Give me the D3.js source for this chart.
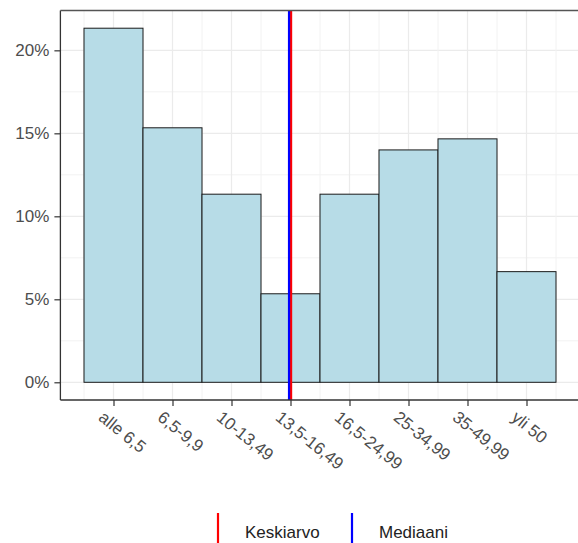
<!DOCTYPE html>
<html>
<head>
<meta charset="utf-8">
<script src="https://cdn.jsdelivr.net/npm/d3@7"></script>
<style>
  html, body { margin: 0; padding: 0; background: #fff; }
  svg { display: block; font-family: "Liberation Sans", Arial, sans-serif; }
</style>
</head>
<body>
<svg id="chart" width="578" height="543"></svg>
<script>
// ---- data ----
const categories = ["alle 6,5", "6,5-9,9", "10-13,49", "13,5-16,49", "16,5-24,99", "25-34,99", "35-49,99", "yli 50"];
const shares = [32/150, 23/150, 17/150, 8/150, 17/150, 21/150, 22/150, 10/150];
const yTicks = [0, 0.05, 0.10, 0.15, 0.20];
const yTickLabels = ["0%", "5%", "10%", "15%", "20%"];
const keskiarvo = 4.01;   // position on category axis (1..8)
const mediaani = 3.975;
const legendItems = [{label: "Keskiarvo", color: "#ff0000"}, {label: "Mediaani", color: "#0000ff"}];

// ---- layout ----
const svg = d3.select("#chart");
const panel = {left: 60.4, right: 579.6, top: 10.5, bottom: 400};
const n = categories.length;
const x = d3.scaleLinear().domain([0.1, n + 0.9]).range([panel.left, panel.right]);
const yMax = d3.max(shares);
const pad = yMax * 0.05;
const y = d3.scaleLinear().domain([-pad, yMax + pad]).range([panel.bottom, panel.top]);

const grid = svg.append("g");
const yMinor = [0.025, 0.075, 0.125, 0.175, 0.225].filter(v => v < yMax + pad);
grid.selectAll("line.ymin").data(yMinor).join("line")
  .attr("x1", panel.left).attr("x2", panel.right)
  .attr("y1", d => y(d)).attr("y2", d => y(d))
  .attr("stroke", "#f2f2f2").attr("stroke-width", 1);
grid.selectAll("line.ymaj").data(yTicks).join("line")
  .attr("x1", panel.left).attr("x2", panel.right)
  .attr("y1", d => y(d)).attr("y2", d => y(d))
  .attr("stroke", "#ebebeb").attr("stroke-width", 1.2);
const xMinor = d3.range(0.5, n + 1, 1);
grid.selectAll("line.xmin").data(xMinor).join("line")
  .attr("y1", panel.top).attr("y2", panel.bottom)
  .attr("x1", d => x(d)).attr("x2", d => x(d))
  .attr("stroke", "#f2f2f2").attr("stroke-width", 1);
grid.selectAll("line.xmaj").data(d3.range(1, n + 1)).join("line")
  .attr("y1", panel.top).attr("y2", panel.bottom)
  .attr("x1", d => x(d)).attr("x2", d => x(d))
  .attr("stroke", "#ebebeb").attr("stroke-width", 1.2);

// bars
svg.append("g").selectAll("rect").data(shares).join("rect")
  .attr("x", (d, i) => x(i + 0.5))
  .attr("width", x(1.5) - x(0.5))
  .attr("y", d => y(d))
  .attr("height", d => y(0) - y(d))
  .attr("fill", "#b7dce7")
  .attr("stroke", "#1a1a1a")
  .attr("stroke-width", 1);

// mean & median lines
svg.append("line")
  .attr("x1", x(keskiarvo)).attr("x2", x(keskiarvo))
  .attr("y1", panel.top).attr("y2", panel.bottom)
  .attr("stroke", legendItems[0].color).attr("stroke-width", 2.2);
svg.append("line")
  .attr("x1", x(mediaani)).attr("x2", x(mediaani))
  .attr("y1", panel.top).attr("y2", panel.bottom)
  .attr("stroke", legendItems[1].color).attr("stroke-width", 2.2);

// axes
const yAxis = d3.axisLeft(y).tickValues(yTicks).tickFormat((d, i) => yTickLabels[i]).tickSize(6).tickPadding(5);
const gy = svg.append("g").attr("transform", `translate(${panel.left},0)`).call(yAxis);
gy.select(".domain").remove();
gy.selectAll(".tick line").attr("stroke", "#333").attr("stroke-width", 1.2);
gy.selectAll(".tick text").attr("fill", "#4d4d4d").style("font-size", "17px")
  .style("font-family", "'Liberation Sans', Arial, sans-serif");

const xAxis = d3.axisBottom(x).tickValues(d3.range(1, n + 1)).tickFormat(d => categories[d - 1]).tickSize(6);
const gx = svg.append("g").attr("transform", `translate(0,${panel.bottom})`).call(xAxis);
gx.select(".domain").remove();
gx.selectAll(".tick line").attr("stroke", "#333").attr("stroke-width", 1.2);
gx.selectAll(".tick text")
  .attr("fill", "#4d4d4d").style("font-size", "17px")
  .style("font-family", "'Liberation Sans', Arial, sans-serif")
  .attr("text-anchor", "start")
  .attr("dy", null)
  .attr("y", 0)
  .attr("transform", "translate(-9,10) rotate(39)")
  .attr("dominant-baseline", "hanging");

// axis lines / border
svg.append("line").attr("x1", panel.left).attr("x2", panel.left).attr("y1", panel.top).attr("y2", panel.bottom)
  .attr("stroke", "#333").attr("stroke-width", 1.3);
svg.append("line").attr("x1", panel.left).attr("x2", panel.right).attr("y1", panel.bottom).attr("y2", panel.bottom)
  .attr("stroke", "#333").attr("stroke-width", 1.3);
svg.append("line").attr("x1", panel.left).attr("x2", panel.right).attr("y1", panel.top).attr("y2", panel.top)
  .attr("stroke", "#555").attr("stroke-width", 1.3);

// legend
const legendX = [218, 352];
const lg = svg.append("g");
legendItems.forEach((it, i) => {
  lg.append("line").attr("x1", legendX[i]).attr("x2", legendX[i]).attr("y1", 513).attr("y2", 543)
    .attr("stroke", it.color).attr("stroke-width", 2.2);
  lg.append("text").attr("x", legendX[i] + 27).attr("y", 538).text(it.label)
    .attr("fill", "#222").style("font-size", "17px");
});
</script>
</body>
</html>
